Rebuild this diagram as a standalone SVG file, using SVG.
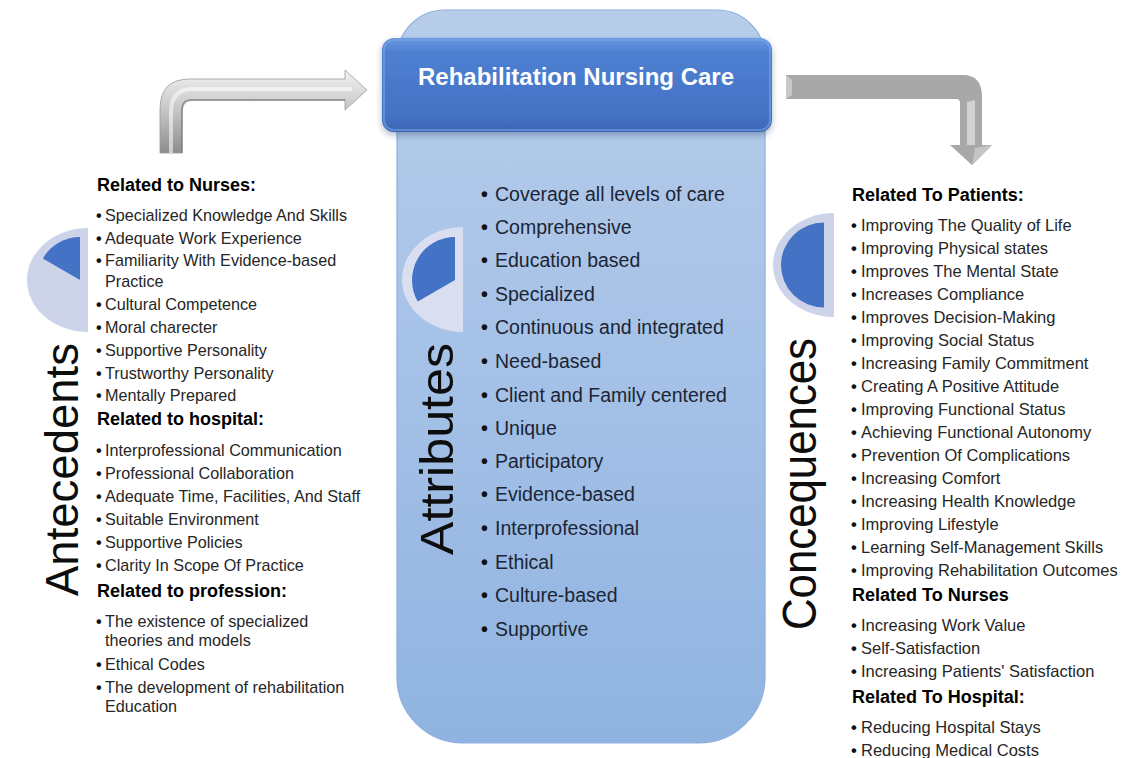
<svg xmlns="http://www.w3.org/2000/svg" width="1144" height="758" viewBox="0 0 1144 758">
<style>
text{font-family:"Liberation Sans",Arial,sans-serif}
.h{font-size:18px;font-weight:bold;fill:#000}
.l{font-size:16.2px;fill:#262626}
.r{font-size:16.5px;fill:#262626}
.c{font-size:19.5px;fill:#1b2535}
.v{font-size:46px;fill:#0d0d0d}
.b{font-weight:bold;fill:#111}
.pl{fill:#cdd4ea}
.pd{fill:#4472c4}
</style>
<defs>
<linearGradient id="colG" x1="0" y1="0" x2="0" y2="1">
<stop offset="0" stop-color="#b7cdea"/>
<stop offset="0.5" stop-color="#a5c1e7"/>
<stop offset="1" stop-color="#8fb3e0"/>
</linearGradient>
<linearGradient id="hdrG" x1="0" y1="0" x2="0" y2="1">
<stop offset="0" stop-color="#6a98e0"/>
<stop offset="0.15" stop-color="#4f80d2"/>
<stop offset="0.85" stop-color="#4371c3"/>
<stop offset="1" stop-color="#3a64b0"/>
</linearGradient>
<linearGradient id="arrL" x1="0" y1="0" x2="0" y2="1">
<stop offset="0" stop-color="#f2f2f2"/>
<stop offset="0.5" stop-color="#c4c4c4"/>
<stop offset="1" stop-color="#8c8c8c"/>
</linearGradient>
<filter id="sh" x="-10%" y="-10%" width="120%" height="130%">
<feDropShadow dx="0" dy="3" stdDeviation="3" flood-color="#1f3864" flood-opacity="0.35"/>
</filter>
</defs>

<g id="attributes-column">
<path d="M397,677 L397,58 A48,48 0 0 1 445,10 L717,10 A48,48 0 0 1 765,58 L765,677 A66,66 0 0 1 699,743 L463,743 A66,66 0 0 1 397,677 Z" fill="url(#colG)" stroke="#8caedc" stroke-width="1.2"/>
</g>

<g id="connectors">
<g id="arrow-left">
<path d="M160,153 L160,109 Q160,79 190,79 L345,79 L345,70 L367,90 L345,110 L345,100 L192,100 Q182,100 182,110 L182,153 Z" fill="url(#arrL)" stroke="#9a9a9a" stroke-width="0.8"/>
<path d="M171,153 L171,112 Q171,89 193,89 L352,89" fill="none" stroke="#ffffff" stroke-opacity="0.55" stroke-width="4"/>
<path d="M182,153 L182,110 Q182,100 192,100 L345,100" fill="none" stroke="#7a7a7a" stroke-opacity="0.6" stroke-width="2"/>
</g>
<g id="arrow-right">
<path d="M786,75 L963,75 Q982,75 982,97 L982,145 L992,145 L972,165 L950,145 L960,145 L960,103 Q960,99 956,99 L786,99 Z" fill="#a8a8a8"/>
<path d="M786,75 L792,80 L792,95 L786,99 Z" fill="#c8c8c8"/>
<path d="M967,102 L967,145 L975,145 L975,100 Z" fill="#d2d2d2"/>
<path d="M972,165 L992,145 L975,148 Z" fill="#c4c4c4"/>
</g>
</g>

<g id="header">
<rect x="382" y="38" width="390" height="94" rx="12" fill="url(#hdrG)" filter="url(#sh)"/>
<rect x="384" y="40" width="386" height="90" rx="10" fill="none" stroke="#7aa3e6" stroke-opacity="0.6" stroke-width="2"/>
<text x="576" y="85" text-anchor="middle" style="font-size:24px;font-weight:bold;fill:#ffffff">Rehabilitation Nursing Care</text>
</g>

<g id="antecedents">
<path class="pl" d="M88,228 A61,52 0 0 0 88,332 Z"/>
<path class="pd" d="M80,280 L80,237 A43,43 0 0 0 42.8,258.5 Z"/>
<text class="v" transform="translate(78,596) rotate(-90)" textLength="253" lengthAdjust="spacingAndGlyphs">Antecedents</text>
<text class="h" x="97" y="191">Related to Nurses:</text>
<text class="l" y="221"><tspan class="b" x="96">•</tspan><tspan x="105">Specialized Knowledge And Skills</tspan></text>
<text class="l" y="244"><tspan class="b" x="96">•</tspan><tspan x="105">Adequate Work Experience</tspan></text>
<text class="l" y="266"><tspan class="b" x="96">•</tspan><tspan x="105">Familiarity With Evidence-based</tspan></text>
<text class="l" x="105" y="287">Practice</text>
<text class="l" y="310"><tspan class="b" x="96">•</tspan><tspan x="105">Cultural Competence</tspan></text>
<text class="l" y="333"><tspan class="b" x="96">•</tspan><tspan x="105">Moral charecter</tspan></text>
<text class="l" y="356"><tspan class="b" x="96">•</tspan><tspan x="105">Supportive Personality</tspan></text>
<text class="l" y="379"><tspan class="b" x="96">•</tspan><tspan x="105">Trustworthy Personality</tspan></text>
<text class="l" y="401"><tspan class="b" x="96">•</tspan><tspan x="105">Mentally Prepared</tspan></text>
<text class="h" x="97" y="425">Related to hospital:</text>
<text class="l" y="456"><tspan class="b" x="96">•</tspan><tspan x="105">Interprofessional Communication</tspan></text>
<text class="l" y="479"><tspan class="b" x="96">•</tspan><tspan x="105">Professional Collaboration</tspan></text>
<text class="l" y="502"><tspan class="b" x="96">•</tspan><tspan x="105">Adequate Time, Facilities, And Staff</tspan></text>
<text class="l" y="525"><tspan class="b" x="96">•</tspan><tspan x="105">Suitable Environment</tspan></text>
<text class="l" y="548"><tspan class="b" x="96">•</tspan><tspan x="105">Supportive Policies</tspan></text>
<text class="l" y="571"><tspan class="b" x="96">•</tspan><tspan x="105">Clarity In Scope Of Practice</tspan></text>
<text class="h" x="97" y="597">Related to profession:</text>
<text class="l" y="627"><tspan class="b" x="96">•</tspan><tspan x="105">The existence of specialized</tspan></text>
<text class="l" x="105" y="646">theories and models</text>
<text class="l" y="670"><tspan class="b" x="96">•</tspan><tspan x="105">Ethical Codes</tspan></text>
<text class="l" y="693"><tspan class="b" x="96">•</tspan><tspan x="105">The development of rehabilitation</tspan></text>
<text class="l" x="105" y="712">Education</text>
</g>

<g id="attributes">
<path d="M463,227 A61,52.5 0 0 0 463,332 Z" fill="#d9def1"/>
<path class="pd" d="M455,280 L455,237 A43,43 0 0 0 417.8,301.5 Z"/>
<text class="v" transform="translate(453,555) rotate(-90)" textLength="212" lengthAdjust="spacingAndGlyphs">Attributes</text>
<text class="c" y="201"><tspan class="b" x="481">•</tspan><tspan x="495">Coverage all levels of care</tspan></text>
<text class="c" y="234"><tspan class="b" x="481">•</tspan><tspan x="495">Comprehensive</tspan></text>
<text class="c" y="267"><tspan class="b" x="481">•</tspan><tspan x="495">Education based</tspan></text>
<text class="c" y="301"><tspan class="b" x="481">•</tspan><tspan x="495">Specialized</tspan></text>
<text class="c" y="334"><tspan class="b" x="481">•</tspan><tspan x="495">Continuous and integrated</tspan></text>
<text class="c" y="368"><tspan class="b" x="481">•</tspan><tspan x="495">Need-based</tspan></text>
<text class="c" y="402"><tspan class="b" x="481">•</tspan><tspan x="495">Client and Family centered</tspan></text>
<text class="c" y="435"><tspan class="b" x="481">•</tspan><tspan x="495">Unique</tspan></text>
<text class="c" y="468"><tspan class="b" x="481">•</tspan><tspan x="495">Participatory</tspan></text>
<text class="c" y="501"><tspan class="b" x="481">•</tspan><tspan x="495">Evidence-based</tspan></text>
<text class="c" y="535"><tspan class="b" x="481">•</tspan><tspan x="495">Interprofessional</tspan></text>
<text class="c" y="569"><tspan class="b" x="481">•</tspan><tspan x="495">Ethical</tspan></text>
<text class="c" y="602"><tspan class="b" x="481">•</tspan><tspan x="495">Culture-based</tspan></text>
<text class="c" y="636"><tspan class="b" x="481">•</tspan><tspan x="495">Supportive</tspan></text>
</g>

<g id="consequences">
<path class="pl" d="M834,213 A61,52 0 0 0 834,317 Z"/>
<path class="pd" d="M824,222.5 A43,42.5 0 0 0 824,307.5 Z"/>
<text class="v" transform="translate(816,630) rotate(-90)" style="font-size:48px" textLength="292" lengthAdjust="spacingAndGlyphs">Concequences</text>
<text class="h" x="852" y="201">Related To Patients:</text>
<text class="r" y="231"><tspan class="b" x="851">•</tspan><tspan x="861">Improving The Quality of Life</tspan></text>
<text class="r" y="254"><tspan class="b" x="851">•</tspan><tspan x="861">Improving Physical states</tspan></text>
<text class="r" y="277"><tspan class="b" x="851">•</tspan><tspan x="861">Improves The Mental State</tspan></text>
<text class="r" y="300"><tspan class="b" x="851">•</tspan><tspan x="861">Increases Compliance</tspan></text>
<text class="r" y="323"><tspan class="b" x="851">•</tspan><tspan x="861">Improves Decision-Making</tspan></text>
<text class="r" y="346"><tspan class="b" x="851">•</tspan><tspan x="861">Improving Social Status</tspan></text>
<text class="r" y="369"><tspan class="b" x="851">•</tspan><tspan x="861">Increasing Family Commitment</tspan></text>
<text class="r" y="392"><tspan class="b" x="851">•</tspan><tspan x="861">Creating A Positive Attitude</tspan></text>
<text class="r" y="415"><tspan class="b" x="851">•</tspan><tspan x="861">Improving Functional Status</tspan></text>
<text class="r" y="438"><tspan class="b" x="851">•</tspan><tspan x="861">Achieving Functional Autonomy</tspan></text>
<text class="r" y="461"><tspan class="b" x="851">•</tspan><tspan x="861">Prevention Of Complications</tspan></text>
<text class="r" y="484"><tspan class="b" x="851">•</tspan><tspan x="861">Increasing Comfort</tspan></text>
<text class="r" y="507"><tspan class="b" x="851">•</tspan><tspan x="861">Increasing Health Knowledge</tspan></text>
<text class="r" y="530"><tspan class="b" x="851">•</tspan><tspan x="861">Improving Lifestyle</tspan></text>
<text class="r" y="553"><tspan class="b" x="851">•</tspan><tspan x="861">Learning Self-Management Skills</tspan></text>
<text class="r" y="576"><tspan class="b" x="851">•</tspan><tspan x="861">Improving Rehabilitation Outcomes</tspan></text>
<text class="h" x="852" y="601">Related To Nurses</text>
<text class="r" y="631"><tspan class="b" x="851">•</tspan><tspan x="861">Increasing Work Value</tspan></text>
<text class="r" y="654"><tspan class="b" x="851">•</tspan><tspan x="861">Self-Satisfaction</tspan></text>
<text class="r" y="677"><tspan class="b" x="851">•</tspan><tspan x="861">Increasing Patients' Satisfaction</tspan></text>
<text class="h" x="852" y="703">Related To Hospital:</text>
<text class="r" y="733"><tspan class="b" x="851">•</tspan><tspan x="861">Reducing Hospital Stays</tspan></text>
<text class="r" y="756"><tspan class="b" x="851">•</tspan><tspan x="861">Reducing Medical Costs</tspan></text>
</g>
</svg>
